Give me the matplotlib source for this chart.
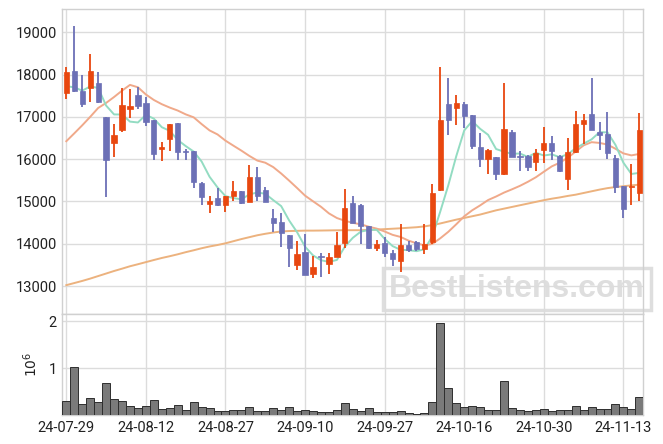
import matplotlib
matplotlib.use("Agg")
import matplotlib.pyplot as plt
import numpy as np
import pandas as pd

# ---------------- data ----------------
opens = [17560, 18090, 17620, 17690, 17790, 17000, 16380, 16680, 17190, 17510,
         17320, 16920, 16240, 16480, 16850, 16190, 16200, 15440, 14930, 15090,
         14910, 15120, 15240, 14980, 15590, 15260, 14610, 14510, 14200, 13500,
         13810, 13280, 13720, 13510, 13680, 14010, 14970, 14920, 14420, 13890,
         14020, 13780, 13580, 13970, 14030, 13880, 14030, 15260, 17300, 17200,
         17300, 17040, 16290, 16010, 16050, 15640, 16640, 16080, 16080, 15940,
         16210, 16380, 16080, 15540, 16160, 16830, 17060, 16640, 16600, 16030,
         15360, 15330, 15190]
highs = [18170, 19150, 17990, 18490, 18070, 17000, 16820, 17690, 17660, 17700,
         17470, 16920, 16400, 16830, 16850, 16240, 16200, 15460, 15120, 15320,
         15140, 15490, 15240, 15870, 15820, 15350, 14810, 14720, 14210, 14070,
         14225, 13700, 13780, 13770, 14280, 15290, 15130, 14930, 14420, 14080,
         14170, 13840, 14470, 14060, 14060, 14470, 15420, 18170, 17910, 17510,
         17360, 17040, 16610, 16250, 16060, 17800, 16680, 16200, 16090, 16230,
         16750, 16550, 16090, 16500, 17130, 17080, 17910, 16890, 17110, 16100,
         15360, 15880, 17100]
lows = [17430, 17600, 17230, 17360, 17330, 15100, 16050, 16640, 16980, 17180,
        16780, 15990, 15950, 16200, 15980, 15980, 15310, 14920, 14720, 14900,
        14740, 15000, 14950, 14980, 15010, 14980, 14280, 13920, 13450, 13390,
        13270, 13200, 13210, 13290, 13680, 13890, 14500, 14000, 13880, 13830,
        13680, 13480, 13340, 13810, 13835, 13760, 14000, 15250, 16570, 16800,
        16730, 16230, 15820, 15650, 15510, 15630, 16040, 15720, 15720, 15720,
        15920, 15980, 15700, 15270, 16140, 16360, 16690, 16220, 16010, 15200,
        14600, 14920, 15000]
closes = [18070, 17620, 17300, 18090, 17350, 15980, 16570, 17290, 17250, 17250,
          16880, 16120, 16280, 16820, 16170, 16160, 15470, 15110, 15010, 14910,
          15130, 15240, 14960, 15590, 15140, 14980, 14490, 14250, 13890, 13750,
          13270, 13460, 13680, 13690, 13980, 14850, 14500, 14410, 13890, 14000,
          13770, 13650, 13970, 13850, 13880, 13990, 15200, 16920, 16930, 17320,
          17030, 16300, 16010, 16220, 15640, 16710, 16050, 16050, 15810, 16140,
          16380, 16190, 15710, 16170, 16830, 16930, 16700, 16560, 16150, 15350,
          14820, 15370, 16690]
volumes = [0.298, 1.014, 0.227, 0.355, 0.270, 0.674, 0.333, 0.298, 0.184, 0.142,
           0.184, 0.312, 0.128, 0.149, 0.206, 0.106, 0.270, 0.163, 0.142, 0.078,
           0.078, 0.099, 0.099, 0.163, 0.078, 0.078, 0.142, 0.099, 0.163, 0.078,
           0.099, 0.078, 0.057, 0.057, 0.106, 0.248, 0.128, 0.085, 0.142, 0.057,
           0.057, 0.057, 0.085, 0.035, 0.014, 0.035, 0.277, 1.950, 0.567, 0.248,
           0.170, 0.184, 0.163, 0.106, 0.106, 0.716, 0.142, 0.106, 0.085, 0.106,
           0.128, 0.085, 0.106, 0.106, 0.184, 0.106, 0.163, 0.128, 0.128, 0.227,
           0.163, 0.128, 0.376]  # millions
# moving-average values before enough history is visible
ma5_head = [17725, 17700, 17620, 17720]
ma20_head = [16424, 16610, 16800, 17000, 17210, 17330, 17470, 17620, 17757, 17700,
             17530, 17400, 17300, 17220, 17150, 17060, 16990, 16830, 16680]
ma120 = [13020, 13070, 13120, 13175, 13235, 13295, 13355, 13410, 13467, 13515,
         13565, 13615, 13663, 13705, 13750, 13800, 13845, 13893, 13935, 13970,
         14010, 14060, 14110, 14155, 14200, 14235, 14265, 14290, 14300, 14305,
         14310, 14310, 14312, 14315, 14318, 14320, 14320, 14320, 14325, 14335,
         14345, 14355, 14365, 14378, 14390, 14410, 14440, 14480, 14525, 14570,
         14610, 14650, 14690, 14740, 14790, 14830, 14870, 14910, 14950, 14990,
         15030, 15065, 15095, 15130, 15160, 15200, 15240, 15280, 15315, 15340,
         15360, 15380, 15397]
tick_labels = ['24-07-29', '24-08-12', '24-08-27', '24-09-10',
               '24-09-27', '24-10-16', '24-10-30', '24-11-13']
tick_step = 10

# ---------------- derived ----------------
n = len(closes)
x = np.arange(n)
cs = pd.Series(closes, dtype=float)
ma5 = cs.rolling(5).mean().to_numpy()
ma5[:len(ma5_head)] = ma5_head
ma20 = cs.rolling(20).mean().to_numpy()
ma20[:len(ma20_head)] = ma20_head

o = np.array(opens, float); c = np.array(closes, float)
h = np.array(highs, float); l = np.array(lows, float)
up = c >= o
RED = '#e8470f'
BLUE = '#6c70b6'
cols = np.where(up, RED, BLUE)

plt.rcParams['font.family'] = ['Roboto', 'DejaVu Sans']
GRID = '#dcdcdc'

fig = plt.figure(figsize=(6.63, 4.44), dpi=100)
ax = fig.add_axes([0.094, 0.2928, 0.8763, 0.6862])
axv = fig.add_axes([0.094, 0.0653, 0.8763, 0.2275], sharex=ax)

for a in (ax, axv):
    a.set_axisbelow(True)
    a.grid(True, color=GRID, linewidth=1.0)
    for s in a.spines.values():
        s.set_color('#d0d0d0')
        s.set_linewidth(1.0)
    a.tick_params(length=0, labelsize=10.5, colors='#222222', pad=4)

# watermark
ax.text(0.783, 0.082, 'BestListens.com', transform=ax.transAxes,
        ha='center', va='center', fontsize=23, fontweight='bold',
        family=['Liberation Sans', 'DejaVu Sans'], color='#dedede', zorder=0.5,
        clip_on=False,
        bbox=dict(boxstyle='square,pad=0.2', fc='none', ec='#dedede', lw=2.5))

# candles
ax.vlines(x, l, h, colors=cols, linewidth=1.3, zorder=3)
body = np.maximum(np.abs(c - o), 25)
ax.bar(x, body, bottom=np.minimum(o, c), width=0.66, color=cols,
       edgecolor=cols, linewidth=0.5, zorder=4)

ax.plot(x, ma120, color='#ecb27e', linewidth=1.4, zorder=2)
ax.plot(x, ma20, color='#f0a98a', linewidth=1.4, zorder=2)
ax.plot(x, ma5, color='#93dcc2', linewidth=1.4, zorder=2)

ax.set_ylim(12338, 19544)
ax.set_yticks([13000, 14000, 15000, 16000, 17000, 18000, 19000])
ax.set_xlim(-0.5, n - 0.5)
plt.setp(ax.get_xticklabels(), visible=False)

# volume
axv.bar(x, np.array(volumes) * 1e6, width=1.0, color='#7a7a7a',
        edgecolor='#2e2e2e', linewidth=0.7, zorder=3)
axv.set_ylim(0, 2.15e6)
axv.set_yticks([1e6, 2e6])
axv.set_yticklabels(['1', '2'])
axv.set_ylabel(r'$10^6$', fontsize=10, color='#222222', labelpad=6)
axv.set_xticks(np.arange(0, n, tick_step)[:len(tick_labels)])
axv.set_xticklabels(tick_labels)
axv.set_xlim(-0.5, n - 0.5)

fig.savefig('out.png', dpi=100)
